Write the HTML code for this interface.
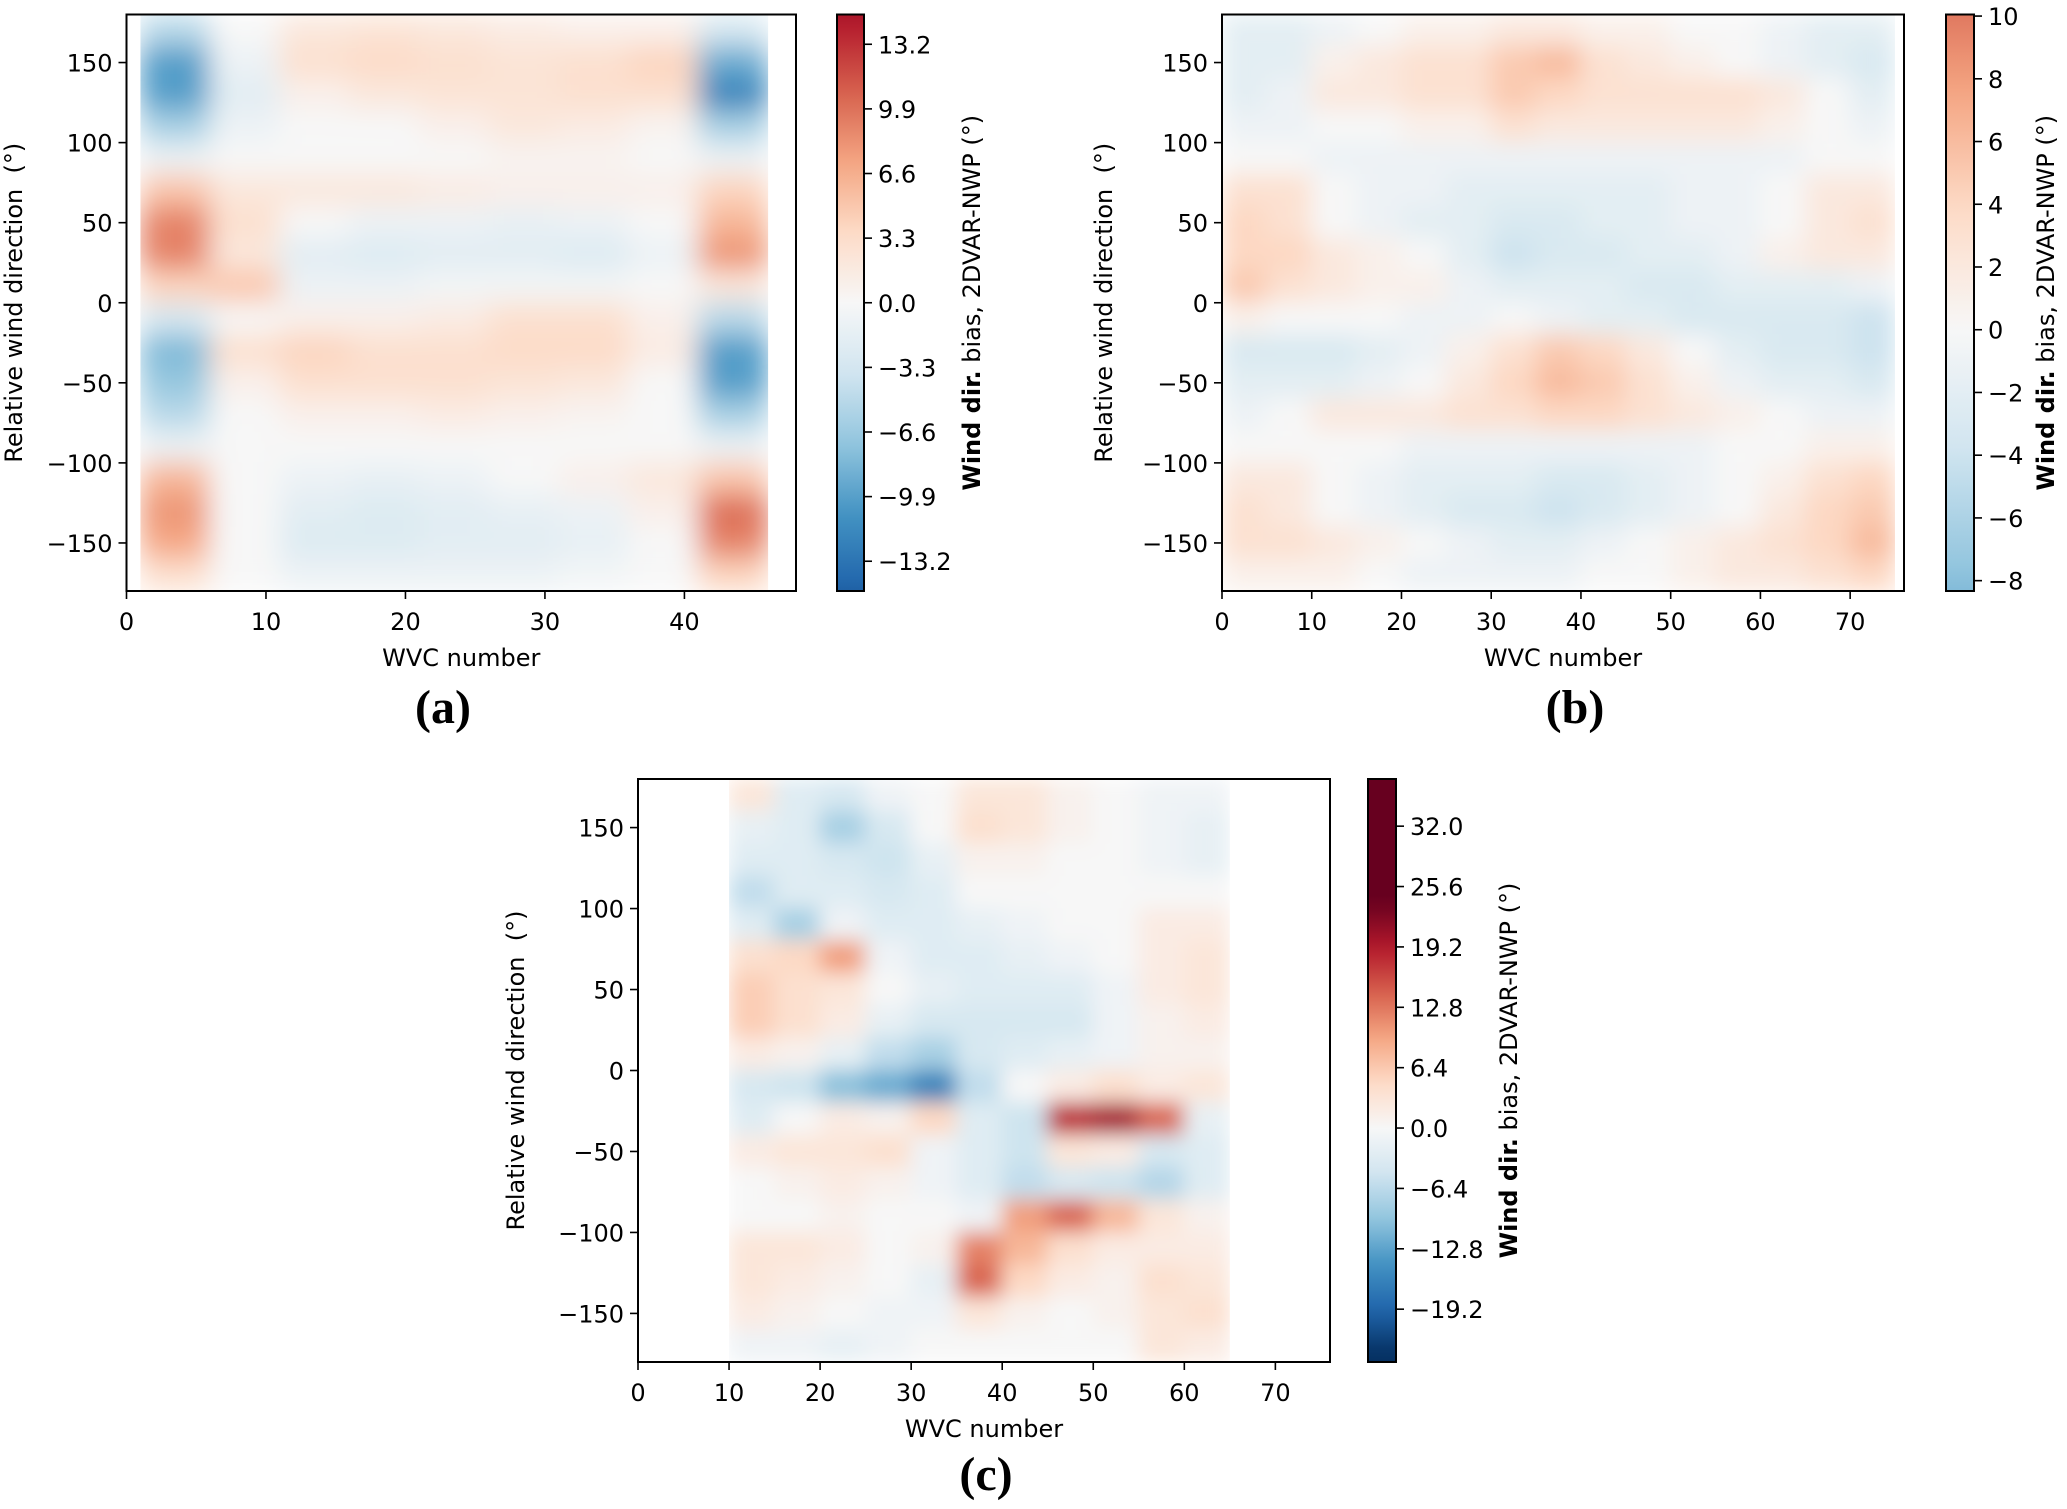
<!DOCTYPE html>
<html><head><meta charset="utf-8">
<style>
html,body{margin:0;padding:0;background:#fff;}
svg{display:block;}
text{font-family:"DejaVu Sans","Liberation Sans",sans-serif;fill:#000;}
.tk{font-size:24px;}
.lab{font-size:24px;}
.pl{font-family:"Liberation Serif",serif;font-weight:bold;font-size:48px;}
</style></head>
<body>
<svg id="fig" width="2067" height="1509" viewBox="0 0 2067 1509" xmlns="http://www.w3.org/2000/svg">
<defs>
<filter id="blurA" x="0" y="0" width="1" height="1"><feGaussianBlur stdDeviation="14" edgeMode="duplicate"/></filter>
<filter id="blurB" x="0" y="0" width="1" height="1"><feGaussianBlur stdDeviation="12" edgeMode="duplicate"/></filter>
<filter id="blurC" x="0" y="0" width="1" height="1"><feGaussianBlur stdDeviation="10" edgeMode="duplicate"/></filter>
</defs>
</svg>
<script>
// ---------- data ----------
const rowCenters = [170,150,130,110,90,70,50,30,10,-10,-30,-50,-70,-90,-110,-130,-150,-170];
const yTicks = [150,100,50,0,-50,-100,-150];
// Panel a: columns x 1..46 step 5
const aXStart = 1, aXStep = 5;
const aValues = [
[-5,0,2,2.5,2,1.5,1,1,-3],
[-10,-1,3,3.5,3,2.5,3,4,-9],
[-10,-2,1,2,2.5,2.5,3,3,-12],
[-6,-1,0,0,1,2,1.5,0.5,-6],
[-1,0,0,0,0,0.5,0.5,0,-1],
[5,2,2,2,1.5,1,1,1,4],
[9,3,0,-1,-1,-1.5,-1,0,6],
[9,2,-2,-2.5,-2,-2,-2.5,-1,8],
[4,5,-1,-1,-0.5,-0.5,-0.5,0,2],
[-3,0,1,1,1.5,3,3,1,-5],
[-8,3,4,3,3,3.5,3.5,1.5,-10],
[-7,1,3,3,3,2.5,2,0,-10],
[-5,0,1,1,1.5,1,0.5,0,-6],
[-1,0,0,0,0,0,0,0,-1],
[6,0,-1,-1.5,-1,0,1,2,5],
[8,0,-2,-2.5,-2,-1.5,-1,1,10],
[7,0,-2.5,-2.5,-2,-2,-1.5,0,9],
[3,0,-1,-1,-1,-1,-0.5,0,4]];
const aXTicks = [0,10,20,30,40];
const aCbTicks = [13.2,9.9,6.6,3.3,0.0,-3.3,-6.6,-9.9,-13.2];
const aCbLabels = ["13.2","9.9","6.6","3.3","0.0","\u22123.3","\u22126.6","\u22129.9","\u221213.2"];
// Panel b: columns x 0..75 step 5
const bXStart = 0, bXStep = 5;
const bValues = [
[-2,-2,-1,0,1,1,2,2,1,1,0,0,-1,-2,-2],
[-2,-2,1,2,3,3,5,6,3,2,1,0,-1,-2,-3],
[-2,-1,2,2,3,3,5,4,3,3,3,3,2,0,-2],
[-1,-1,0,0,1,1,3,2,2,2,2,2,1,0,-1],
[0,0,-1,-1,-1,-1,-1,-1,-1,-1,-1,-1,-1,0,0],
[3,3,0,-1,-1,-2,-2,-2,-2,-2,-1,-1,0,2,2],
[4,3,0,-1,-2,-2,-3,-3,-2,-2,-1,-1,0,2,3],
[4,4,2,1,0,-2,-4,-3,-3,-2,-2,-1,1,2,2],
[5,3,2,1,1,-1,-2,-2,-2,-3,-3,-2,-2,-2,-1],
[1,0,0,0,-1,-1,0,-1,-2,-2,-3,-3,-3,-3,-4],
[-3,-3,-3,-2,-1,1,3,5,4,2,0,-2,-3,-3,-4],
[-2,-2,-2,-1,0,2,4,6,5,3,1,-1,-2,-2,-3],
[-1,0,2,2,2,3,3,4,4,3,2,1,0,-1,-1],
[0,0,0,0,-1,-1,-1,-1,-1,-1,-1,0,0,1,1],
[2,2,0,-1,-2,-2,-2,-3,-3,-2,-1,0,1,3,4],
[3,2,0,-1,-2,-3,-3,-4,-3,-2,-1,0,2,4,5],
[3,3,2,1,0,-1,-2,-2,-1,0,1,2,3,4,6],
[1,1,1,0,-1,-1,-1,-1,0,0,1,2,2,3,4]];
const bXTicks = [0,10,20,30,40,50,60,70];
const bCbTicks = [10,8,6,4,2,0,-2,-4,-6,-8];
const bCbLabels = ["10","8","6","4","2","0","\u22122","\u22124","\u22126","\u22128"];
// Panel c: columns x 10..65 step 5
const cXStart = 10, cXStep = 5;
const cValues = [
[3,-3,-4,-1,0,3,3,1,0,-1,-1],
[-2,-3,-8,-4,0,4,3,1,0,-1,-2],
[-3,-3,-4,-5,-2,1,1,0,0,-1,-2],
[-6,-3,-3,-4,-3,0,0,0,0,0,0],
[-3,-8,-1,-3,-3,-2,-1,0,0,2,2],
[4,5,10,-1,-3,-3,-2,-1,0,2,3],
[6,4,3,0,-2,-3,-3,-3,-1,2,3],
[6,4,2,-2,-4,-4,-4,-4,-1,1,2],
[2,1,-2,-6,-8,-4,-3,-2,-1,1,1],
[-4,-5,-10,-12,-16,-6,0,2,4,2,3],
[-3,0,2,1,5,-3,-5,18,20,14,-2],
[2,3,3,4,-1,-3,-5,3,2,-4,-3],
[0,1,2,1,-1,-3,-6,-4,-5,-7,-3],
[0,0,1,0,0,-1,10,14,8,3,1],
[3,3,2,0,1,12,8,4,2,2,2],
[3,2,1,0,-2,14,5,2,1,4,3],
[2,1,0,-1,-1,3,1,0,1,3,4],
[-1,-1,-2,-1,0,0,0,0,0,3,2]];
const cXTicks = [0,10,20,30,40,50,60,70];
const cCbTicks = [32.0,25.6,19.2,12.8,6.4,0.0,-6.4,-12.8,-19.2];
const cCbLabels = ["32.0","25.6","19.2","12.8","6.4","0.0","\u22126.4","\u221212.8","\u221219.2"];
const yTickLabels = ["150","100","50","0","\u221250","\u2212100","\u2212150"];

// ---------- colormap RdBu_r ----------
const stops=[[5,48,97],[33,102,172],[67,147,195],[146,197,222],[209,229,240],[247,247,247],[253,219,199],[244,165,130],[214,96,77],[178,24,43],[103,0,31]];
function cmap(t){t=Math.max(0,Math.min(1,t));const f=t*10,i=Math.min(9,Math.floor(f)),r=f-i;
 const a=stops[i],b=stops[i+1];return `rgb(${Math.round(a[0]+(b[0]-a[0])*r)},${Math.round(a[1]+(b[1]-a[1])*r)},${Math.round(a[2]+(b[2]-a[2])*r)})`;}
const NS="http://www.w3.org/2000/svg";const svg=document.getElementById('fig');
function mk(tag,attrs,parent){const e=document.createElementNS(NS,tag);for(const k in attrs)e.setAttribute(k,attrs[k]);(parent||svg).appendChild(e);return e;}

function panel(P){
 const g=mk('g',{});
 
 
 const sx=v=>P.L+(v-P.x0)/(P.x1-P.x0)*(P.R-P.L);
 const sy=v=>P.T+(180-v)/360*(P.B-P.T);
 const col=v=>cmap((v+P.norm)/(2*P.norm));
 const ncol=P.values[0].length;
 const clipId='clip'+P.id;
 const cp=mk('clipPath',{id:clipId},g);
 mk('rect',{x:sx(P.xs),y:sy(180),width:sx(P.xs+ncol*P.xstep)-sx(P.xs),height:sy(-180)-sy(180)},cp);
 const hg=mk('g',{'clip-path':`url(#${clipId})`},g);
 const inner=mk('g',{filter:`url(#${P.blur})`},hg);
 
 
 P.values.forEach((row,ri)=>{row.forEach((v,ci)=>{
  const xa=P.xs+ci*P.xstep, yc=rowCenters[ri];
  const r=mk('rect',{x:sx(xa)-0.5,y:sy(yc+10)-0.5,width:sx(xa+P.xstep)-sx(xa)+1,height:sy(yc-10)-sy(yc+10)+1,fill:col(v)},inner);
  
  
 });});
 const fr=mk('rect',{x:P.L,y:P.T,width:P.R-P.L,height:P.B-P.T,fill:'none',stroke:'#000','stroke-width':2},g);
 
 
 P.xticks.forEach(t=>{const x=sx(t);mk('line',{x1:x,x2:x,y1:P.B,y2:P.B+8,stroke:'#000','stroke-width':1.6},g);
  const tx=mk('text',{x:x,y:P.B+39,class:'tk','text-anchor':'middle'},g);tx.textContent=String(t);
  
  });
 yTicks.forEach((t,i)=>{const y=sy(t);mk('line',{x1:P.L-8,x2:P.L,y1:y,y2:y,stroke:'#000','stroke-width':1.6},g);
  const tx=mk('text',{x:P.L-14,y:y+9,class:'tk','text-anchor':'end'},g);tx.textContent=yTickLabels[i];
  
  });
 const xl=mk('text',{x:(P.L+P.R)/2,y:P.B+75,class:'lab','text-anchor':'middle'},g);xl.textContent='WVC number';
 
 
 const ym=(P.T+P.B)/2;
 const yl=mk('text',{x:0,y:0,class:'lab','text-anchor':'middle',transform:`translate(${P.ylx},${ym}) rotate(-90)`},g);yl.textContent='Relative wind direction\u00a0\u00a0(\u00b0)';
 
 
 // colorbar
 const cy=v=>P.T+(P.cbMax-v)/(P.cbMax-P.cbMin)*(P.B-P.T);
 const gid='grad'+P.id;
 const lg=mk('linearGradient',{id:gid,x1:0,y1:0,x2:0,y2:1},g);
 for(let k=0;k<=40;k++){const v=P.cbMax-(P.cbMax-P.cbMin)*k/40;mk('stop',{offset:k/40,'stop-color':col(v)},lg);}
 const cb=mk('rect',{x:P.cbL,y:P.T,width:P.cbW,height:P.B-P.T,fill:`url(#${gid})`,stroke:'#000','stroke-width':2},g);
 
 
 P.cbTicks.forEach((t,i)=>{const y=cy(t);mk('line',{x1:P.cbL+P.cbW,x2:P.cbL+P.cbW+8,y1:y,y2:y,stroke:'#000','stroke-width':1.6},g);
  const tx=mk('text',{x:P.cbL+P.cbW+14,y:y+9,class:'tk'},g);tx.textContent=P.cbLabels[i];
  
  });
 const cl=mk('text',{x:0,y:0,class:'lab','text-anchor':'middle',transform:`translate(${P.cblx},${ym}) rotate(-90)`},g);
 
 
 const b1=mk('tspan',{'font-weight':'bold'},cl);b1.textContent='Wind dir.';
 const b2=mk('tspan',{},cl);b2.textContent=' bias, 2DVAR-NWP (\u00b0)';
 const pl=mk('text',{x:P.plx,y:P.ply,class:'pl','text-anchor':'middle'},g);pl.textContent=P.letter;
 
 
}
panel({id:'a',name:'panel-a',L:126.5,R:796,T:14.5,B:591,x0:0,x1:48,xs:aXStart,xstep:aXStep,values:aValues,norm:18,blur:'blurA',
 xticks:aXTicks,ylx:22,cbL:837,cbW:27,cbMax:14.72,cbMin:-14.72,cbTicks:aCbTicks,cbLabels:aCbLabels,cblx:980,plx:443,ply:723,letter:'(a)'});
panel({id:'b',name:'panel-b',L:1222,R:1904,T:14.5,B:591,x0:0,x1:76,xs:bXStart,xstep:bXStep,values:bValues,norm:19,blur:'blurB',
 xticks:bXTicks,ylx:1112,cbL:1946,cbW:28,cbMax:10.05,cbMin:-8.33,cbTicks:bCbTicks,cbLabels:bCbLabels,cblx:2054,plx:1575,ply:723,letter:'(b)'});
panel({id:'c',name:'panel-c',L:638,R:1330,T:779,B:1362,x0:0,x1:76,xs:cXStart,xstep:cXStep,values:cValues,norm:24,blur:'blurC',
 xticks:cXTicks,ylx:524,cbL:1368,cbW:28,cbMax:37,cbMin:-24.8,cbTicks:cCbTicks,cbLabels:cCbLabels,cblx:1517,plx:986,ply:1490,letter:'(c)'});
</script>
</body></html>
